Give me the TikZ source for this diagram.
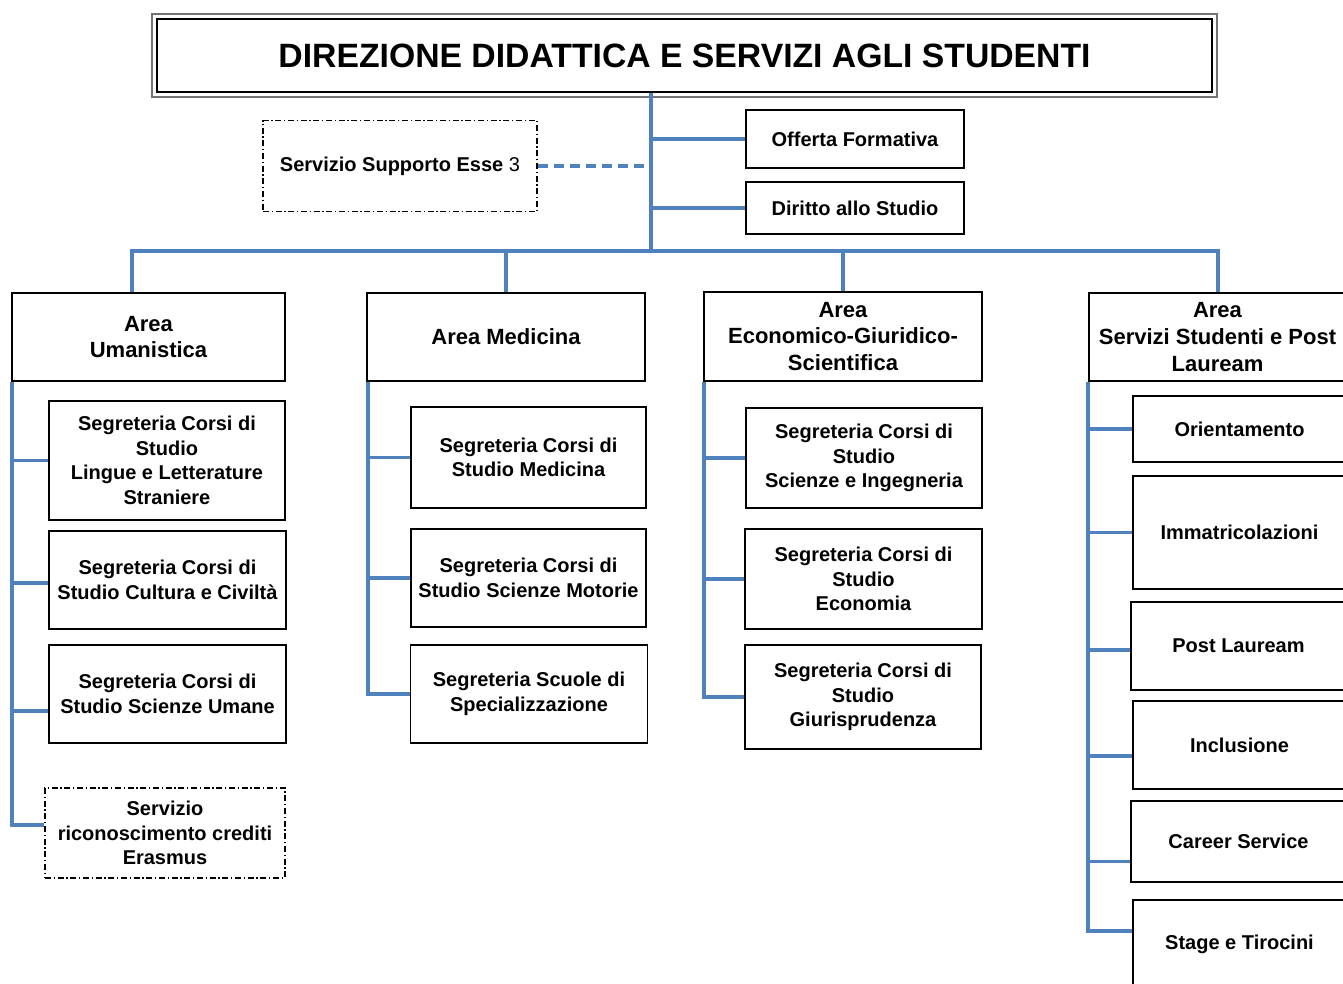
\documentclass[tikz,border=0pt]{standalone}
\usepackage{fontspec}
\setmainfont{Liberation Sans}
\usetikzlibrary{calc}
\definecolor{conblue}{RGB}{79,129,189}
\begin{document}
\begin{tikzpicture}[x=0.75pt,y=-0.75pt]
\tikzset{
  sz/.style 2 args={minimum width=#1*0.75pt, minimum height=#2*0.75pt},
  box/.style={draw=black, line width=0.9pt, fill=white, align=center, inner sep=1pt,
    font=\bfseries\fontsize{15}{18.5}\selectfont},
  areabox/.style={draw=black, line width=1.6pt, fill=white, align=center, inner sep=1pt,
    font=\bfseries\fontsize{16.5}{20}\selectfont},
  dbox/.style={draw=black, line width=0.8pt, dash pattern=on 4.5pt off 2pt on 1pt off 2pt,
    fill=white, align=center, inner sep=1pt, font=\bfseries\fontsize{15}{18.5}\selectfont},
  conn/.style={draw=conblue, line width=2.7pt},
  dconn/.style={draw=conblue, line width=2.7pt, dash pattern=on 8pt off 4pt},
}
\useasboundingbox (0,0) rectangle (1343,983);
\clip (0,0) rectangle (1343,983);
\fill[white] (0,0) rectangle (1343,983);

% title
\node[draw=black, line width=1.6pt, sz={1055}{73}, font=\bfseries\fontsize{25.3}{30}\selectfont]
  (title) at (684.5,55.5) {DIREZIONE DIDATTICA E SERVIZI AGLI STUDENTI};
\draw[black!55, line width=1.8pt] ([shift={(-4,-4)}]title.north west) rectangle ([shift={(4,4)}]title.south east);

% top-level nodes
\node[box, sz={218}{58}] (off) at (855,139) {Offerta Formativa};
\node[box, sz={218}{52}] (dir) at (855,208) {Diritto allo Studio};
\node[dbox, sz={274}{91}] (esse) at (400,166) {Servizio Supporto Esse \mdseries 3};

\coordinate (j1) at (651,251);
\coordinate (b1) at (132,251);
\coordinate (b4) at (1218,251);

% area boxes
\node[areabox, sz={273}{88}] (um) at (148.5,337) {Area\\Umanistica};
\node[areabox, sz={278}{88}] (med) at (506,337) {Area Medicina};
\node[areabox, sz={278}{89}] (eco) at (843,336.5) {Area\\Economico-Giuridico-\\Scientifica};
\node[areabox, sz={257}{88}] (ser) at (1217.5,337) {Area\\Servizi Studenti e Post\\Lauream};

% Umanistica
\node[box, sz={236}{119}] (u1) at (167,460.5) {Segreteria Corsi di\\Studio\\Lingue e Letterature\\Straniere};
\node[box, sz={237}{98}] (u2) at (167.5,580) {Segreteria Corsi di\\Studio Cultura e Civiltà};
\node[box, sz={237}{98}] (u3) at (167.5,694) {Segreteria Corsi di\\Studio Scienze Umane};
\node[dbox, sz={240}{90}] (u4) at (165,833) {Servizio\\riconoscimento crediti\\Erasmus};

% Medicina
\node[box, sz={235}{101}] (m1) at (528.5,457.5) {Segreteria Corsi di\\Studio Medicina};
\node[box, sz={235}{98}] (m2) at (528.5,578) {Segreteria Corsi di\\Studio Scienze Motorie};
\node[box, sz={237}{98}] (m3) at (529,694) {Segreteria Scuole di\\Specializzazione};

% Economico
\node[box, sz={236}{100}] (e1) at (864,458) {Segreteria Corsi di\\Studio\\Scienze e Ingegneria};
\node[box, sz={237}{100}] (e2) at (863.5,579) {Segreteria Corsi di\\Studio\\Economia};
\node[box, sz={236}{104}] (e3) at (863,697) {Segreteria Corsi di\\Studio\\Giurisprudenza};

% Servizi
\node[box, sz={213}{66}] (s1) at (1239.5,429) {Orientamento};
\node[box, sz={213}{113}] (s2) at (1239.5,532.5) {Immatricolazioni};
\node[box, sz={215}{88}] (s3) at (1238.5,646) {Post Lauream};
\node[box, sz={213}{88}] (s4) at (1239.5,745) {Inclusione};
\node[box, sz={215}{81}] (s5) at (1238.5,841.5) {Career Service};
\node[box, sz={213}{88}] (s6) at (1239.5,944) {Stage e Tirocini};

% connectors top
\draw[conn] (title.south -| j1) -- (j1);
\draw[conn] (off.west) -- (off.west -| j1);
\draw[conn] (dir.west) -- (dir.west -| j1);
\draw[dconn] (esse.east) -- (esse.east -| j1);
\draw[conn] (um.north -| b1) -- (b1) -- (b4) -- (ser.north -| b4);
\draw[conn] (med.north) -- (med.north |- b1);
\draw[conn] (eco.north) -- (eco.north |- b1);

% Umanistica connectors
\coordinate (u4w) at ($(u4.west)+(0,-8)$);
\draw[conn] ([xshift=0.75pt]um.south west) -- ([xshift=0.75pt]um.south west |- u4w) -- (u4w);
\draw[conn] ([xshift=0.75pt]um.south west |- u1.west) -- (u1.west);
\draw[conn] ($([xshift=0.75pt]um.south west |- u2.west)+(0,3)$) -- ($(u2.west)+(0,3)$);
\draw[conn] ($([xshift=0.75pt]um.south west |- u3.west)+(0,17)$) -- ($(u3.west)+(0,17)$);

% Medicina connectors
\draw[conn] ([xshift=1.5pt]med.south west) -- ([xshift=1.5pt]med.south west |- m3.west) -- (m3.west);
\draw[conn] ([xshift=1.5pt]med.south west |- m1.west) -- (m1.west);
\draw[conn] ([xshift=1.5pt]med.south west |- m2.west) -- (m2.west);

% Economico connectors
\draw[conn] ([xshift=0.75pt]eco.south west) -- ([xshift=0.75pt]eco.south west |- e3.west) -- (e3.west);
\draw[conn] ([xshift=0.75pt]eco.south west |- e1.west) -- (e1.west);
\draw[conn] ([xshift=0.75pt]eco.south west |- e2.west) -- (e2.west);

% Servizi connectors
\coordinate (s6w) at ($(s6.west)+(0,-13)$);
\draw[conn] (ser.south west) -- (ser.south west |- s6w) -- (s6w);
\draw[conn] (ser.south west |- s1.west) -- (s1.west);
\draw[conn] (ser.south west |- s2.west) -- (s2.west);
\draw[conn] ($(ser.south west |- s3.west)+(0,4)$) -- ($(s3.west)+(0,4)$);
\draw[conn] ($(ser.south west |- s4.west)+(0,11)$) -- ($(s4.west)+(0,11)$);
\draw[conn] ($(ser.south west |- s5.west)+(0,20)$) -- ($(s5.west)+(0,20)$);
\end{tikzpicture}
\end{document}
